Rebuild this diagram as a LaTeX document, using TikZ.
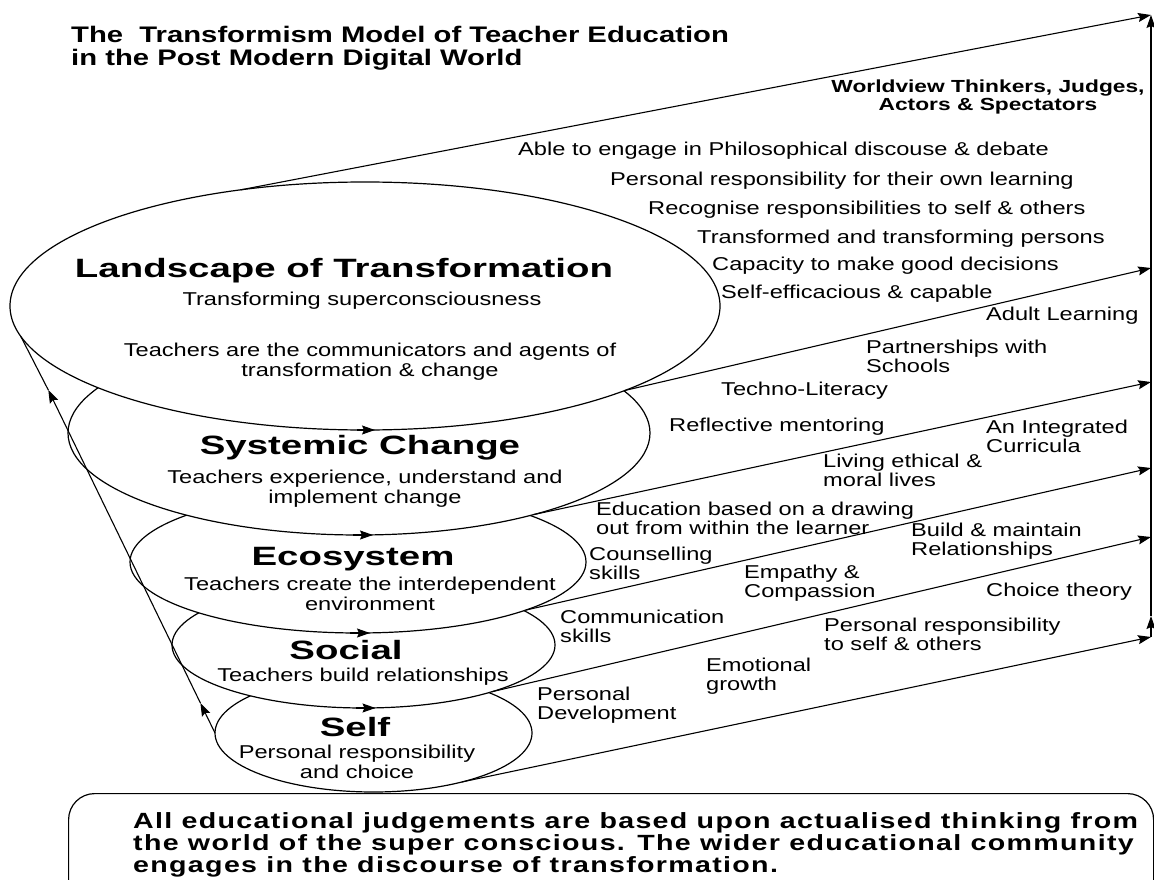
\documentclass[tikz,border=0pt]{standalone}
\usepackage{fontspec}
\usepackage{tikz}
\usetikzlibrary{shapes.geometric}
\usetikzlibrary{arrows.meta}
\setmainfont{Liberation Sans}
\newfontfamily\plainsans[FakeStretch=1.27]{Liberation Sans}
\newfontfamily\boldsans[FakeStretch=1.3]{Liberation Sans}
\newfontfamily\headsans[FakeStretch=1.45]{Liberation Sans}
\newfontfamily\spacedsans[FakeStretch=1.3,LetterSpace=6]{Liberation Sans}

\begin{document}
\begin{tikzpicture}[x=1pt,y=-1pt,
    layer/.style={draw,ellipse,fill=white,line width=1.2pt,inner sep=0pt,outer sep=0pt},
    conn/.style={line width=1.1pt},
    tip/.style={-{Stealth[length=13pt,width=9pt,inset=2pt]}},
    heading/.style={inner sep=0pt,anchor=north,font=\headsans\bfseries\fontsize{26.5}{26}\selectfont},
    caption/.style={inner sep=0pt,anchor=north,align=center,font=\plainsans\fontsize{18.6}{19.5}\selectfont},
    item/.style={inner sep=0pt,anchor=north west,align=left,font=\plainsans\fontsize{18.6}{19}\selectfont}]
        \useasboundingbox (0,0) rectangle (1154,880);
        \clip (0,0) rectangle (1154,880);

        \node[anchor=north west,inner sep=0pt,align=left,font=\boldsans\bfseries\fontsize{22.5}{22.5}\selectfont] (title) at (71,26)
            {The\ \ Transformism Model of Teacher Education\\in the Post Modern Digital World};

        \node[layer,minimum width=317pt,minimum height=118pt] (self) at (373.5,733){};
        \node[layer,minimum width=383pt,minimum height=126pt] (social) at (363.5,645){};
        \node[layer,minimum width=456pt,minimum height=142pt] (eco) at (358,562){};
        \node[layer,minimum width=582pt,minimum height=204pt] (systemic) at (359,433){};
        \node[layer,minimum width=710pt,minimum height=248pt] (landscape) at (365,306){};

        \node[heading] (landH) at (344,258){Landscape of Transformation};
        \node[caption] (landS) at (362,292){Transforming superconsciousness};
        \node[caption] (landT) at (370,343){Teachers are the communicators and agents of\\transformation \& change};
        \node[heading] (sysH) at (360,435){Systemic Change};
        \node[caption] (sysT) at (365,470){Teachers experience, understand and\\implement change};
        \node[heading] (ecoH) at (353,547){Ecosystem};
        \node[caption] (ecoT) at (370,577){Teachers create the interdependent\\environment};
        \node[heading] (socH) at (346,640){Social};
        \node[caption] (socT) at (363,668){Teachers build relationships};
        \node[heading] (selfH) at (355,717){Self};
        \node[caption] (selfT) at (357,745){Personal responsibility\\and choice};

        \coordinate (r1) at (1151,15);
        \coordinate (r2) at (1151,268);
        \coordinate (r3) at (1151,382);
        \coordinate (r4) at (1151,468);
        \coordinate (r5) at (1151,537);
        \coordinate (r6) at (1151,637);
        \coordinate (rup) at (1151,616);
        \coordinate (la) at (200.4,703);
        \coordinate (lb) at (48.3,390);

        \draw[conn,tip] (landscape.137.4) -- (r1);
        \draw[conn,tip] (landscape.-18.3) -- (r2);
        \draw[conn,tip] (systemic.-25.5) -- (r3);
        \draw[conn,tip] (eco.-16.4) -- (r4);
        \draw[conn,tip] (social.-20.4) -- (r5);
        \draw[conn,tip] (self.-29.5) -- (r6);
        \draw[conn,tip] (r6) -- (rup);
        \draw[conn,tip] (rup) -- (r1);

        \draw[conn,tip] (self.west) -- (la);
        \draw[conn,tip] (la) -- (lb);
        \draw[conn] (lb) -- (landscape.185.7);

        \draw[conn,tip] ([xshift=-8pt]landscape.south) -- ([xshift=10pt]landscape.south);
        \draw[conn,tip] ([xshift=-6pt]systemic.south) -- ([xshift=14pt]systemic.south);
        \draw[conn,tip] ([xshift=-8pt]eco.south) -- ([xshift=12pt]eco.south);
        \draw[conn,tip] ([xshift=-8pt]social.south) -- ([xshift=12pt]social.south);

        \node[anchor=north,inner sep=0pt,align=center,font=\boldsans\bfseries\fontsize{17.5}{18}\selectfont] (worldview) at (988,80)
            {Worldview Thinkers, Judges,\\Actors \& Spectators};
        \node[item] (able) at (518,142){Able to engage in Philosophical discouse \& debate};
        \node[item] (ownlearn) at (610,172){Personal responsibility for their own learning};
        \node[item] (recognise) at (648,201){Recognise responsibilities to self \& others};
        \node[item] (transformed) at (697,230){Transformed and transforming persons};
        \node[item] (decisions) at (712,257){Capacity to make good decisions};
        \node[item] (efficacious) at (721,285){Self-efficacious \& capable};
        \node[item] (adult) at (986,307){Adult Learning};
        \node[item] (partners) at (866,340){Partnerships with\\Schools};
        \node[item] (techno) at (721,382){Techno-Literacy};
        \node[item] (mentoring) at (669,418){Reflective mentoring};
        \node[item] (curricula) at (986,420){An Integrated\\Curricula};
        \node[item] (ethical) at (823,454){Living ethical \&\\moral lives};
        \node[item] (drawing) at (596,502){Education based on a drawing\\out from within the learner};
        \node[item] (relations) at (911,523){Build \& maintain\\Relationships};
        \node[item] (counsel) at (589,547){Counselling\\skills};
        \node[item] (empathy) at (744,565){Empathy \&\\Compassion};
        \node[item] (choice) at (986,583){Choice theory};
        \node[item] (communic) at (560,610){Communication\\skills};
        \node[item] (respons) at (824,618){Personal responsibility\\to self \& others};
        \node[item] (emotional) at (706,658){Emotional\\growth};
        \node[item] (personal) at (537,687){Personal\\Development};

        \node[draw,line width=1.2pt,rounded corners=26pt,anchor=north west,inner sep=0pt,
            minimum width=1085pt,minimum height=130pt] (notebox) at (68,793){};
        \node[anchor=north west,inner sep=0pt,align=left,font=\spacedsans\bfseries\fontsize{22}{22}\selectfont] (notetext) at (133,812)
            {All educational judgements are based upon actualised thinking from\\the world of the super conscious. The wider educational community\\engages in the discourse of transformation.};
      \end{tikzpicture}
\end{document}
